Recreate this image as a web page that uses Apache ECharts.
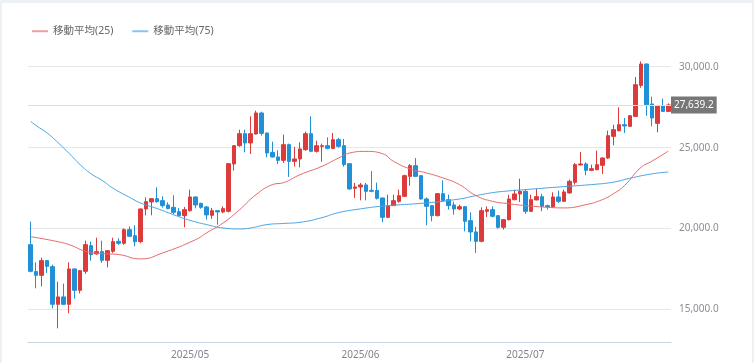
<!DOCTYPE html>
<html><head><meta charset="utf-8">
<script src="https://cdn.jsdelivr.net/npm/echarts@6/dist/echarts.min.js"></script>
<style>
html,body{margin:0;padding:0;background:#edf0f5;width:754px;height:363px;overflow:hidden}
#c{position:absolute;left:2px;top:3px;width:750px;height:360px;background:#fff}
</style></head><body><div id="c"></div>
<script>
// first trading day shown and number of daily candles
const startDate = '2025-04-02';
const dayCount = 117;
// candles: [open, close, low, high]
const ohlc = [
[19012,17364,17300,20432],[17346,17117,16315,17920],[17117,18025,16438,18210],[18025,17673,17265,18050],
[17654,15327,15080,17778],[15327,15784,13846,16728],[15784,15327,15300,16605],[15327,17512,14771,17920],
[17512,16191,15679,17540],[16191,17407,16000,17430],[17364,19012,17204,19259],[18950,18395,18025,19198],
[18438,18580,18395,19444],[18580,18043,17883,19259],[18043,18642,17611,18660],[18599,19198,18500,19444],
[19216,19093,19000,19400],[19093,19938,19000,20019],[19938,19525,19500,20142],[19568,19198,18907,20204],
[19198,21216,19100,21240],[21216,21667,20821,21932],[21648,21852,20821,21870],[21852,21667,21600,22550],
[21728,21420,21296,21994],[21463,21235,21200,21623],[21315,21006,20900,22056],[21049,20802,20750,21278],
[20802,21173,20080,21340],[21111,21957,21050,22407],[21957,21463,21253,21980],[21562,21315,21230,21600],
[21340,20846,20556,21400],[20821,21111,20599,21278],[21111,21031,20247,21130],[21031,21235,20950,21377],
[21068,24012,21000,24050],[23994,25124,23580,25140],[25124,25864,25050,26111],[25864,25290,24710,26111],
[25290,25864,24611,26932],[25846,27142,25800,27284],[27142,25883,25740,27222],[25907,24673,24401,25920],
[24710,24426,24400,25371],[24426,24216,23994,24833],[24216,25185,24056,25803],[25185,24154,23191,25250],
[24154,24302,23827,25043],[24302,24920,23784,25327],[24877,25864,24800,25988],[25864,24772,24750,26932],
[24772,25124,24700,25432],[25080,25124,24136,25247],[25124,24957,24900,25636],[24957,25494,24900,25907],
[25494,25080,25000,25599],[25124,23951,23827,25537],[24012,22451,22407,24030],[22488,22574,21895,22821],
[22574,22698,21747,22821],[22698,22303,21747,22821],[22364,22303,22250,23550],[22364,21870,21800,22840],
[21895,20698,20389,21910],[20698,21420,20650,22099],[21420,21728,21400,22099],[21685,22037,21600,22407],
[21994,23272,21950,23333],[23228,23889,22654,23994],[23889,23228,23200,24364],[23272,21833,21800,23290],
[21833,21377,20204,21932],[21420,20802,20451,21430],[20802,22161,20750,22200],[22161,21728,21700,22982],
[21790,21420,21173,22099],[21463,21216,20864,21667],[21216,21358,21150,21482],[21358,20451,19833,21400],
[20494,19796,19216,21006],[19796,19216,18500,20105],[19216,21111,19150,21315],[21068,21173,20722,21377],
[21173,20759,20700,21377],[20802,20080,20000,20820],[20080,20556,19938,20600],[20556,21833,20500,22099],
[21790,22142,21750,22407],[22142,22303,21648,23087],[22303,21068,20907,22407],[21068,21790,21031,22099],
[21772,21975,21750,22469],[21975,21377,21068,22160],[21420,21340,21173,21482],[21340,21957,21300,22241],
[21957,21685,21586,22346],[21685,22265,21650,22407],[22204,22920,22150,23025],[22858,23951,22716,24056],
[23932,23994,23900,24735],[23994,23599,23290,24093],[23599,23704,23550,23951],[23642,23951,23600,24815],
[23907,24364,23376,24401],[24364,25741,24300,26049],[25698,26111,25142,26420],[26049,26420,26000,27488],
[26420,26340,25907,26833],[26315,26975,26300,27000],[26932,28889,26900,29365],[28846,30167,28700,30327],
[30167,27654,26975,30200],[27698,26833,26315,28148],[26500,27593,25945,27600],[27593,27240,27200,28025],
[27240,27639.2,27200,27735]
];
// moving averages: [candle index, value]
const ma25 = [[0,19500],[4,19260],[7,19010],[10,18600],[13,18460],[16,18400],[20,18130],[24,18500],
[30,19320],[32,19740],[35,20350],[38,21170],[41,22100],[44,22720],[46,22840],[49,23330],[53,23850],
[56,24360],[58,24670],[61,24770],[64,24630],[66,24160],[69,23690],[72,23440],[75,23130],[78,22720],
[81,22040],[84,21690],[87,21540],[90,21420],[93,21340],[97,21280],[101,21480],[104,21790],[106,22150],
[108,22650],[111,23770],[113,24160],[116,24780]];
const ma75 = [[0,26620],[1,26360],[3,25900],[5,25300],[7,24640],[9,23950],[11,23380],[13,22980],[15,22490],
[18,21930],[20,21580],[23,21240],[26,20860],[29,20510],[32,20250],[35,20040],[38,19980],[40,20040],
[43,20250],[46,20320],[49,20390],[53,20680],[56,20990],[60,21220],[64,21390],[72,21590],[78,21830],
[81,22040],[84,22220],[86,22300],[90,22410],[96,22570],[102,22720],[106,22870],[109,23110],[113,23380],[116,23500]];
const lastPrice = 27639.2;
const yTicks = [15000, 20000, 25000, 30000];
const seriesNames = ['移動平均(25)', '移動平均(75)'];

const dates = [];
{
  const d = new Date(startDate + 'T00:00:00Z');
  for (let i = 0; i < dayCount; i++) {
    const t = new Date(d.getTime() + i * 86400000);
    dates.push(t.getUTCFullYear() + '/' + String(t.getUTCMonth() + 1).padStart(2, '0') + '/' + String(t.getUTCDate()).padStart(2, '0'));
  }
}
const isMonthStart = (idx, val) => val.slice(8) === '01';
const fmt = v => v.toLocaleString('en-US', {minimumFractionDigits: 1, maximumFractionDigits: 1});
const FONT = "'Noto Sans', 'Noto Sans CJK JP', sans-serif";

const chart = echarts.init(document.getElementById('c'), null, {renderer: 'canvas'});
chart.setOption({
  animation: false,
  backgroundColor: '#fff',
  textStyle: {fontFamily: FONT},
  legend: {
    left: 25, top: 18, icon: 'rect', itemWidth: 16, itemHeight: 2, itemGap: 19,
    itemStyle: {opacity: 0.65},
    textStyle: {color: '#666', fontSize: 10.5, fontFamily: FONT},
    data: seriesNames
  },
  grid: {left: 26, right: 81, top: 39.4, bottom: 21},
  xAxis: {
    type: 'category', data: dates, boundaryGap: true,
    axisLine: {lineStyle: {color: '#c5d5ea'}},
    axisTick: {alignWithLabel: true, interval: isMonthStart, length: 5, lineStyle: {color: '#c5d5ea'}},
    axisLabel: {interval: isMonthStart, formatter: v => v.slice(0, 7), color: '#80848c', fontSize: 10, margin: 8, fontFamily: FONT},
    splitLine: {show: false}
  },
  yAxis: {
    type: 'value', position: 'right', scale: true, min: 13000, max: 31500,
    axisLine: {show: false},
    axisTick: {show: false, customValues: yTicks},
    axisLabel: {customValues: yTicks, formatter: fmt, color: '#8a8e96', fontSize: 10, margin: 8, fontFamily: FONT},
    splitLine: {lineStyle: {color: '#e6e6e6'}}
  },
  series: [
    {
      type: 'candlestick', name: 'price', data: ohlc, barWidth: 4,
      itemStyle: {color: '#dc3b3b', color0: '#2290d6', borderColor: '#dc3b3b', borderColor0: '#2290d6', borderWidth: 1},
      markLine: {
        silent: true, symbol: 'none', animation: false,
        lineStyle: {color: '#dedede', type: 'solid', width: 1},
        label: {position: 'end', formatter: () => fmt(lastPrice), color: '#fff', backgroundColor: '#777', padding: [4, 3, 3, 3], fontSize: 10, distance: 0, fontFamily: FONT},
        data: [{yAxis: lastPrice}]
      }
    },
    {type: 'line', name: seriesNames[0], data: ma25, smooth: true, showSymbol: false, symbol: 'none',
     itemStyle: {color: '#e66a6a'}, lineStyle: {color: '#e66a6a', width: 1}},
    {type: 'line', name: seriesNames[1], data: ma75, smooth: true, showSymbol: false, symbol: 'none',
     itemStyle: {color: '#4aa5e3'}, lineStyle: {color: '#4aa5e3', width: 1}}
  ]
});
</script></body></html>
